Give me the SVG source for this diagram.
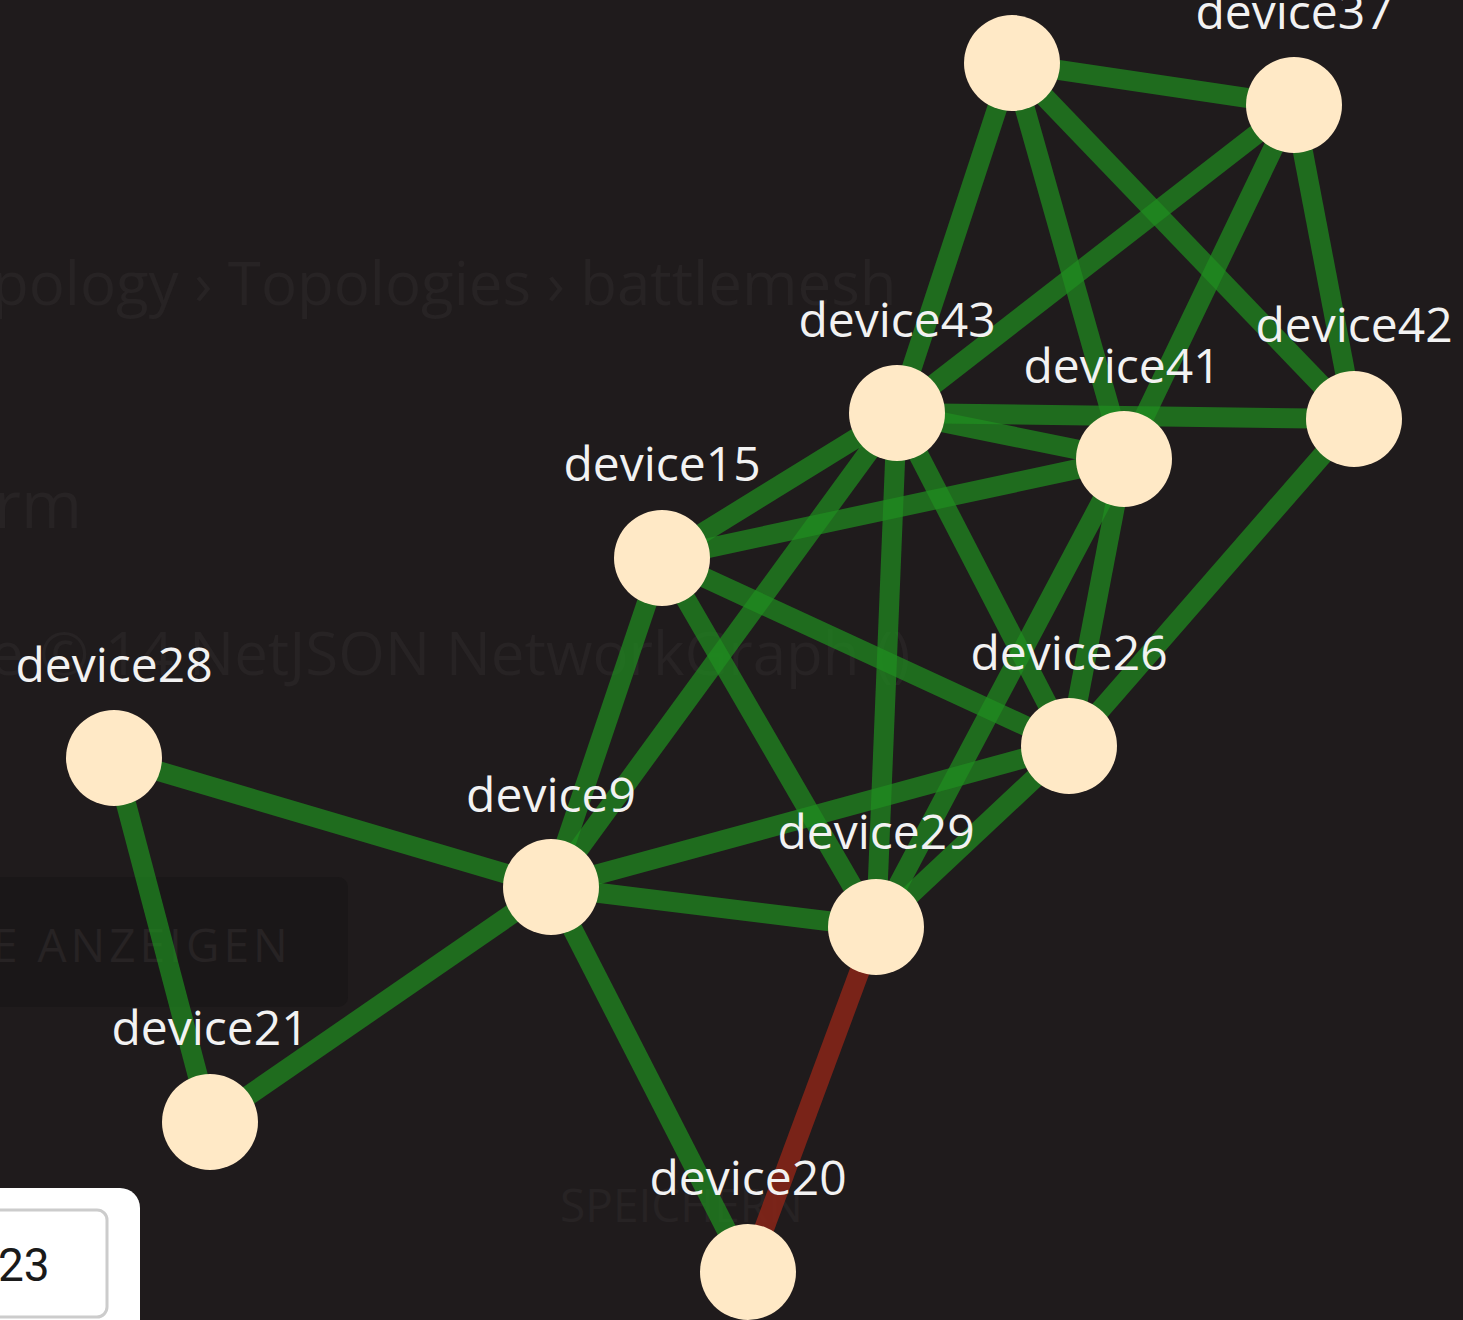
<svg xmlns="http://www.w3.org/2000/svg" width="1463" height="1320" viewBox="0 0 1463 1320">
<style>
.ghost{font-family:"Open Sans","Liberation Sans",sans-serif;fill:#272324}
.lbl{font-family:"Open Sans","Liberation Sans",sans-serif;font-size:48px;fill:#f2f2f2;text-anchor:middle}
.e{stroke:#1f8f1f;stroke-width:20;stroke-opacity:0.7;fill:none}
.bad{stroke:#8a2418;stroke-width:20;stroke-opacity:0.85;fill:none}
.n{fill:#ffe9c6}
</style>
<rect x="0" y="0" width="1463" height="1320" fill="#1f1b1c"/>
<g id="background">
<text class="ghost" x="-8" y="305" font-size="60">pology › Topologies › battlemesh</text>
<text class="ghost" x="-6" y="528" font-size="66">rm</text>
<text class="ghost" x="-10" y="675" font-size="60">e © 14  NetJSON NetworkGraph ()</text>
<rect x="-20" y="877" width="368" height="130" rx="10" fill="#1a1718"/>
<text class="ghost" x="-8" y="962" font-size="46" letter-spacing="4">E ANZEIGEN</text>
<text class="ghost" x="560" y="1222" font-size="46" fill="#242021">SPEICHERN</text>
</g>
<g id="connectors">
<line class="e" x1="1012" y1="63" x2="1294" y2="105"/>
<line class="e" x1="1012" y1="63" x2="897" y2="413"/>
<line class="e" x1="1012" y1="63" x2="1124" y2="459"/>
<line class="e" x1="1012" y1="63" x2="1354" y2="419"/>
<line class="e" x1="1294" y1="105" x2="897" y2="413"/>
<line class="e" x1="1294" y1="105" x2="1124" y2="459"/>
<line class="e" x1="1294" y1="105" x2="1354" y2="419"/>
<line class="e" x1="897" y1="413" x2="1124" y2="459"/>
<line class="e" x1="897" y1="413" x2="1354" y2="419"/>
<line class="e" x1="897" y1="413" x2="662" y2="558"/>
<line class="e" x1="897" y1="413" x2="551" y2="887"/>
<line class="e" x1="897" y1="413" x2="876" y2="927"/>
<line class="e" x1="897" y1="413" x2="1069" y2="746"/>
<line class="e" x1="1124" y1="459" x2="662" y2="558"/>
<line class="e" x1="1124" y1="459" x2="876" y2="927"/>
<line class="e" x1="1124" y1="459" x2="1069" y2="746"/>
<line class="e" x1="1354" y1="419" x2="1069" y2="746"/>
<line class="e" x1="662" y1="558" x2="551" y2="887"/>
<line class="e" x1="662" y1="558" x2="876" y2="927"/>
<line class="e" x1="662" y1="558" x2="1069" y2="746"/>
<line class="e" x1="1069" y1="746" x2="551" y2="887"/>
<line class="e" x1="1069" y1="746" x2="876" y2="927"/>
<line class="e" x1="551" y1="887" x2="876" y2="927"/>
<line class="e" x1="551" y1="887" x2="114" y2="758"/>
<line class="e" x1="551" y1="887" x2="210" y2="1122"/>
<line class="e" x1="551" y1="887" x2="748" y2="1272"/>
<line class="e" x1="114" y1="758" x2="210" y2="1122"/>
<line class="bad" x1="876" y1="927" x2="748" y2="1272"/>
</g>
<g id="node-device36"><circle class="n" cx="1012" cy="63" r="48"/></g>
<g id="node-device37"><circle class="n" cx="1294" cy="105" r="48"/><text class="lbl" x="1294" y="29">device37</text></g>
<g id="node-device43"><circle class="n" cx="897" cy="413" r="48"/><text class="lbl" x="897" y="337">device43</text></g>
<g id="node-device41"><circle class="n" cx="1124" cy="459" r="48"/><text class="lbl" x="1122" y="383">device41</text></g>
<g id="node-device42"><circle class="n" cx="1354" cy="419" r="48"/><text class="lbl" x="1354" y="342">device42</text></g>
<g id="node-device15"><circle class="n" cx="662" cy="558" r="48"/><text class="lbl" x="662" y="481">device15</text></g>
<g id="node-device26"><circle class="n" cx="1069" cy="746" r="48"/><text class="lbl" x="1069" y="670">device26</text></g>
<g id="node-device28"><circle class="n" cx="114" cy="758" r="48"/><text class="lbl" x="114" y="682">device28</text></g>
<g id="node-device9"><circle class="n" cx="551" cy="887" r="48"/><text class="lbl" x="551" y="812">device9</text></g>
<g id="node-device29"><circle class="n" cx="876" cy="927" r="48"/><text class="lbl" x="876" y="849">device29</text></g>
<g id="node-device21"><circle class="n" cx="210" cy="1122" r="48"/><text class="lbl" x="210" y="1045">device21</text></g>
<g id="node-device20"><circle class="n" cx="748" cy="1272" r="48"/><text class="lbl" x="748" y="1195">device20</text></g>
<g id="input-box">
<rect x="-30" y="1188" width="170" height="160" rx="20" fill="#ffffff"/>
<rect x="-30" y="1210" width="137" height="107" rx="10" fill="#ffffff" stroke="#cccccc" stroke-width="3"/>
<text x="-2" y="1281" font-family="Roboto,'Liberation Sans',sans-serif" font-size="46" fill="#1a1a1a">23</text>
</g>
</svg>
